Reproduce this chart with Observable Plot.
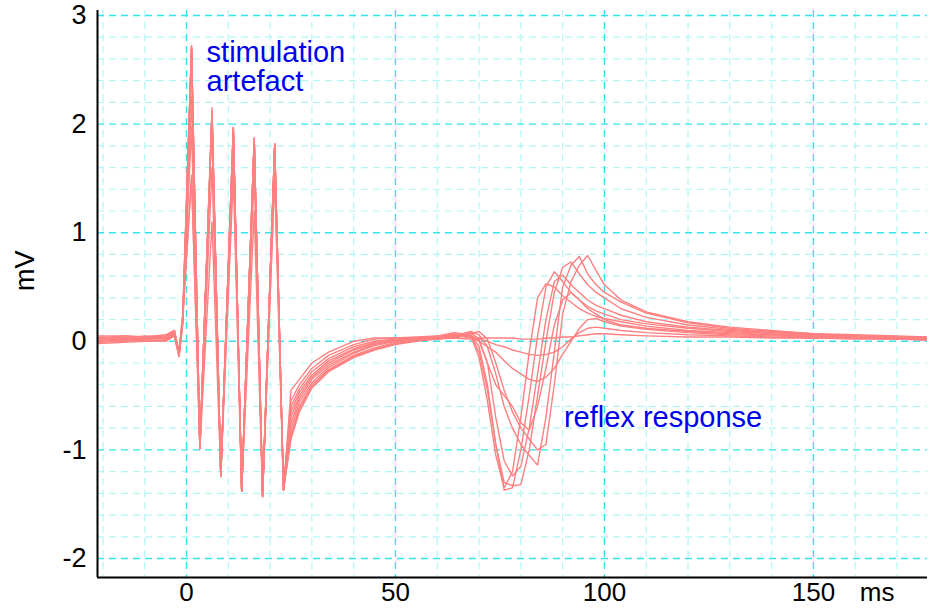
<!DOCTYPE html>
<html>
<head>
<meta charset="utf-8">
<script src="https://cdn.jsdelivr.net/npm/d3@7"></script>
<script src="https://cdn.jsdelivr.net/npm/@observablehq/plot@0.6"></script>
<style>
  html, body { margin: 0; padding: 0; background: #fff; }
  svg { display: block; }
</style>
</head>
<body>
<div id="chart"></div>
<script>
// time (ms) of the samples shared by all sweeps
const time = [-21,-15,-10,-5,-2.9,-1.8,-0.9,1.2,3.2,6.1,8.2,11.2,13.2,16.2,18.2,21.1,23.2,25,27,30,34,40,45,50,55,
  60,64,68,70,72,74,76,78,80,82,84,86,88,90,92,94,96,98,100,104,110,120,130,140,150,160,170,177];

// sweeps (mV)
const sweep1 = [0.03,0.05,0.04,0.05,0.09,-0.12,0.22, 2.72,-0.99,2.10,-1.24,1.97,-1.38,1.87,-1.43,1.82,-1.37, -0.45,-0.35,-0.20,-0.10,0.00,0.03,0.03,0.03,
  0.03,0.06,0.05,-0.15,-0.55,-1.05,-1.35,-1.20,-0.70,-0.10,0.40,0.53,0.50,0.42,0.36,0.30,0.26,0.23,0.21,0.18,0.14,0.10,0.08,0.06,0.04,0.03,0.02,0.02];
const sweep2 = [0.00,0.01,0.02,0.02,0.07,-0.13,0.18, 2.70,-0.98,2.15,-1.23,1.95,-1.37,1.85,-1.42,1.80,-1.36, -0.55,-0.40,-0.25,-0.13,-0.03,0.02,0.03,0.04,
  0.05,0.08,0.06,-0.05,-0.40,-0.95,-1.37,-1.35,-1.00,-0.50,0.05,0.50,0.64,0.55,0.45,0.38,0.32,0.28,0.25,0.20,0.16,0.12,0.09,0.07,0.05,0.04,0.03,0.03];
const sweep3 = [0.04,0.03,0.05,0.04,0.10,-0.10,0.24, 1.53,-0.99,2.05,-1.25,1.90,-1.38,1.55,-1.43,1.80,-1.37, -0.60,-0.44,-0.28,-0.16,-0.05,0.00,0.02,0.03,
  0.02,0.04,0.08,0.02,-0.20,-0.70,-1.10,-1.24,-1.15,-0.80,-0.30,0.20,0.55,0.61,0.52,0.45,0.38,0.33,0.30,0.24,0.18,0.13,0.10,0.08,0.06,0.05,0.04,0.03];
const sweep4 = [-0.01,0.00,0.01,0.00,0.05,-0.14,0.16, 2.68,-0.97,1.60,-1.22,1.95,-1.36,1.86,-1.41,1.50,-1.35, -0.65,-0.47,-0.31,-0.18,-0.07,-0.01,0.02,0.02,
  0.04,0.07,0.05,-0.10,-0.45,-0.95,-1.30,-1.33,-1.32,-1.00,-0.50,0.00,0.45,0.68,0.73,0.62,0.52,0.45,0.40,0.30,0.22,0.15,0.11,0.08,0.06,0.05,0.04,0.03];
const sweep5 = [0.02,0.03,0.03,0.03,0.08,-0.11,0.20, 1.97,-0.99,2.10,-1.24,1.52,-1.38,1.87,-1.43,1.78,-1.37, -0.70,-0.50,-0.33,-0.20,-0.08,-0.02,0.01,0.03,
  0.03,0.05,0.09,0.06,-0.05,-0.30,-0.60,-0.80,-0.95,-1.05,-1.14,-0.70,-0.10,0.50,0.70,0.78,0.62,0.52,0.45,0.36,0.26,0.17,0.12,0.09,0.07,0.05,0.04,0.04];
const sweep6 = [0.05,0.05,0.04,0.06,0.10,-0.09,0.25, 2.72,-0.99,2.12,-1.24,1.96,-1.38,1.20,-1.43,1.82,-1.37, -0.75,-0.53,-0.35,-0.22,-0.10,-0.03,0.01,0.02,
  0.02,0.04,0.07,0.09,0.02,-0.20,-0.45,-0.65,-0.80,-0.90,-1.00,-0.95,-0.40,0.25,0.55,0.70,0.79,0.65,0.52,0.38,0.27,0.18,0.13,0.10,0.07,0.06,0.05,0.04];
const sweep7 = [0.01,0.02,0.00,0.01,0.06,-0.13,0.19, 2.25,-0.98,2.08,-1.23,1.97,-1.37,1.85,-1.42,1.80,-1.36, -0.80,-0.56,-0.38,-0.24,-0.11,-0.04,0.00,0.02,
  0.05,0.03,0.06,0.00,-0.20,-0.40,-0.50,-0.60,-0.75,-0.82,-0.60,-0.25,0.15,0.38,0.45,0.38,0.30,0.25,0.20,0.15,0.12,0.09,0.07,0.06,0.05,0.04,0.03,0.02];
const sweep8 = [0.03,0.02,0.03,0.04,0.09,-0.12,0.21, 2.70,-0.99,1.10,-1.24,1.94,-1.38,1.87,-1.43,1.55,-1.37, -0.85,-0.60,-0.40,-0.26,-0.13,-0.06,-0.01,0.01,
  0.04,0.06,0.03,0.00,-0.05,-0.10,-0.18,-0.25,-0.30,-0.35,-0.37,-0.33,-0.25,-0.12,0.00,0.12,0.20,0.21,0.18,0.14,0.11,0.08,0.06,0.05,0.04,0.03,0.03,0.02];
const sweep9 = [-0.02,-0.01,0.00,0.01,0.05,-0.14,0.17, 2.72,-0.99,2.10,-1.24,1.70,-1.38,1.84,-1.43,1.82,-1.37, -0.88,-0.62,-0.42,-0.27,-0.14,-0.07,-0.02,0.01,
  0.03,0.05,0.04,0.02,0.00,-0.03,-0.05,-0.08,-0.10,-0.12,-0.13,-0.12,-0.10,-0.05,0.02,0.08,0.12,0.13,0.12,0.10,0.08,0.06,0.05,0.04,0.03,0.03,0.02,0.02];
const sweep10 = [0.02,0.04,0.02,0.03,0.07,-0.11,0.20, 1.50,-0.98,2.05,-1.23,1.97,-1.37,1.80,-1.42,1.75,-1.36, -0.90,-0.65,-0.43,-0.28,-0.15,-0.08,-0.03,0.00,
  0.02,0.03,0.02,0.03,0.03,0.03,0.03,0.03,0.02,0.02,0.02,0.03,0.03,0.04,0.04,0.05,0.06,0.07,0.07,0.06,0.05,0.04,0.04,0.03,0.03,0.02,0.02,0.01];

const sweeps = [sweep1, sweep2, sweep3, sweep4, sweep5, sweep6, sweep7, sweep8, sweep9, sweep10];

// axis ticks and grid
const xTicks = [0, 50, 100, 150];
const yTicks = [-2, -1, 0, 1, 2, 3];
const xMinor = [-20,-10,10,20,30,40,60,70,80,90,110,120,130,140,160,170];
const yMinor = [-1.8,-1.6,-1.4,-1.2,-0.8,-0.6,-0.4,-0.2,0.2,0.4,0.6,0.8,1.2,1.4,1.6,1.8,2.2,2.4,2.6,2.8];

const xDomain = [-21.3, 177.3];
const yDomain = [-2.175, 3.046];

const data = sweeps.flatMap((s, i) => s.map((v, j) => ({sweep: i, t: time[j], v})));

const font = "'Liberation Sans', Arial, sans-serif";
const majorColor = "#33e4ec";
const minorColor = "#b2f6f6";

const chart = Plot.plot({
  width: 929,
  height: 608,
  marginLeft: 97,
  marginRight: 2,
  marginTop: 10,
  marginBottom: 31,
  style: {fontFamily: font, fontSize: "27px", color: "#000", background: "#fff"},
  x: {domain: xDomain},
  y: {domain: yDomain},
  marks: [
    Plot.ruleX(xMinor, {stroke: minorColor, strokeWidth: 1.2, strokeDasharray: "7,5"}),
    Plot.ruleY(yMinor, {stroke: minorColor, strokeWidth: 1.2, strokeDasharray: "7,5"}),
    Plot.ruleX(xTicks, {stroke: majorColor, strokeWidth: 1.4, strokeDasharray: "7,5"}),
    Plot.ruleY(yTicks, {stroke: majorColor, strokeWidth: 1.4, strokeDasharray: "7,5"}),
    Plot.line(data, {x: "t", y: "v", z: "sweep", stroke: "#ff8080", strokeWidth: 1.4, curve: "linear"}),
    Plot.axisX({ticks: xTicks, tickSize: 0, tickPadding: 5, label: null, fontSize: 26, tickFormat: d => String(d)}),
    Plot.axisY({ticks: yTicks, tickSize: 0, tickPadding: 11, label: null, fontSize: 27, tickFormat: d => String(d)}),
    Plot.ruleX([xDomain[0]], {stroke: "#000", strokeWidth: 2}),
    Plot.ruleY([yDomain[0]], {stroke: "#000", strokeWidth: 2}),
    Plot.text(["stimulation\nartefact"], {x: 4.8, y: 2.52, text: d => d, textAnchor: "start", lineAnchor: "middle", lineHeight: 1, fill: "#0000ee", fontSize: 29}),
    Plot.text(["reflex response"], {x: 90.3, y: -0.70, text: d => d, textAnchor: "start", fill: "#0000ee", fontSize: 29}),
    Plot.text(["mV"], {frameAnchor: "left", dx: -72, dy: -3, rotate: -90, text: d => d, fill: "#000", fontSize: 27, lineAnchor: "middle"}),
    Plot.text(["ms"], {frameAnchor: "bottom-right", dx: -33, dy: 15, text: d => d, fill: "#000", fontSize: 26, lineAnchor: "middle"})
  ]
});

document.getElementById("chart").appendChild(chart);
</script>
</body>
</html>
